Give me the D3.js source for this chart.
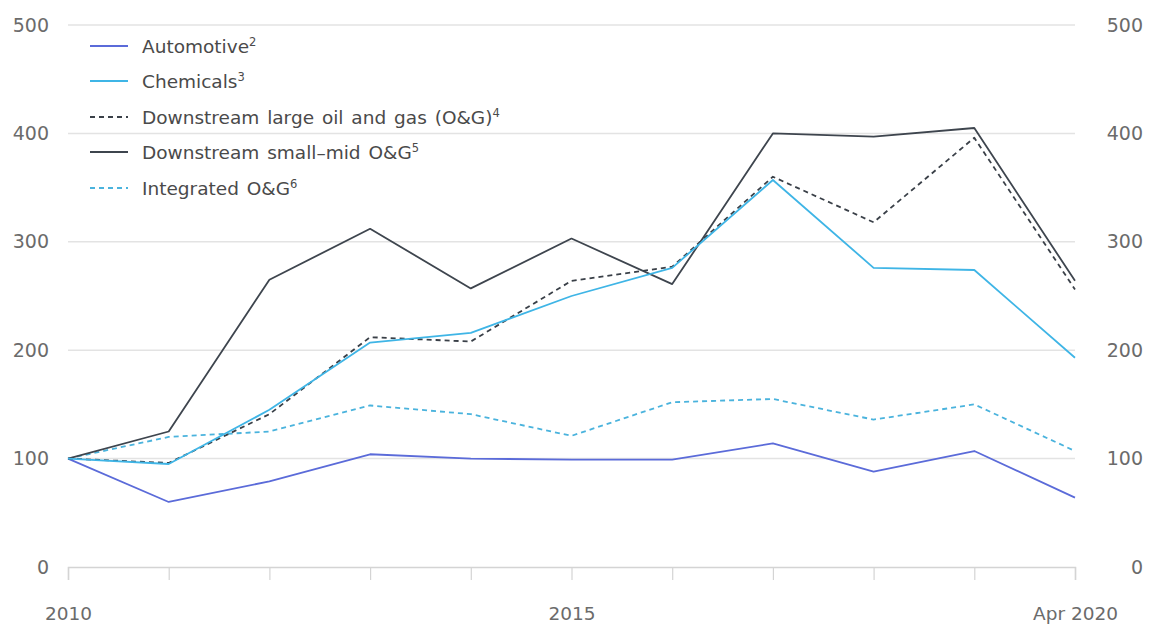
<!DOCTYPE html>
<html>
<head>
<meta charset="utf-8">
<script src="https://cdn.jsdelivr.net/npm/d3@7"></script>
<style>
  html, body { margin: 0; padding: 0; background: #fff; }
  svg { display: block; font-family: "DejaVu Sans", sans-serif; }
</style>
</head>
<body>
<svg id="chart" width="1152" height="626"></svg>
<script>
const periods = ["2010","2011","2012","2013","2014","2015","2016","2017","2018","2019","Apr 2020"];
const xTickLabels = {0: "2010", 5: "2015", 10: "Apr 2020"};
const yTicks = [0, 100, 200, 300, 400, 500];

const automotive   = [100, 60, 79, 104, 100, 99, 99, 114, 88, 107, 64];
const chemicals    = [100, 95, 145, 207, 216, 250, 276, 357, 276, 274, 193];
const downLarge    = [100, 96, 141, 212, 208, 264, 277, 360, 318, 396, 256];
const downSmallMid = [100, 125, 265, 312, 257, 303, 261, 400, 397, 405, 264];
const integrated   = [100, 120, 125, 149, 141, 121, 152, 155, 136, 150, 107];

const seriesNames = ["Automotive", "Chemicals", "Downstream large oil and gas (O&G)", "Downstream small\u2013mid O&G", "Integrated O&G"];
const seriesNotes = ["2", "3", "4", "5", "6"];

const series = [
  {name: seriesNames[0], note: seriesNotes[0], values: automotive,   color: "#5b6bd9", dash: null},
  {name: seriesNames[1], note: seriesNotes[1], values: chemicals,    color: "#3fb5e6", dash: null},
  {name: seriesNames[2], note: seriesNotes[2], values: downLarge,    color: "#3a4048", dash: "5,4"},
  {name: seriesNames[3], note: seriesNotes[3], values: downSmallMid, color: "#3e454e", dash: null},
  {name: seriesNames[4], note: seriesNotes[4], values: integrated,   color: "#4ab3dd", dash: "5,4"}
];

const svg = d3.select("#chart");
const mLeft = 68, mRight = 1075, mTop = 25, mBottom = 567;

const x = d3.scalePoint().domain(d3.range(periods.length)).range([mLeft, mRight]);
const y = d3.scaleLinear().domain([0, 500]).range([mBottom, mTop]);

// gridlines
svg.append("g").selectAll("line").data(yTicks.filter(d => d > 0)).join("line")
  .attr("x1", mLeft).attr("x2", mRight)
  .attr("y1", d => y(d)).attr("y2", d => y(d))
  .attr("stroke", "#e3e3e3").attr("stroke-width", 1.5);

// bottom axis
const xAxis = d3.axisBottom(x).tickSize(13).tickFormat(d => xTickLabels[d] || "");
const gx = svg.append("g").attr("transform", `translate(0,${mBottom})`).call(xAxis);
gx.select(".domain").attr("stroke", "#d4d4d4").attr("stroke-width", 1.5);
gx.selectAll(".tick line").attr("stroke", "#d4d4d4").attr("stroke-width", 1.2);
gx.selectAll(".tick text").attr("fill", "#6b6b6b").attr("font-size", 18.5)
  .attr("font-family", "DejaVu Sans, sans-serif").attr("y", 53).attr("dy", 0);

// left axis labels
const yAxisL = d3.axisLeft(y).tickValues(yTicks).tickSize(0);
const gyl = svg.append("g").attr("transform", `translate(${mLeft},0)`).call(yAxisL);
gyl.select(".domain").remove();
gyl.selectAll(".tick text").attr("fill", "#6b6b6b").attr("font-size", 19)
  .attr("font-family", "DejaVu Sans, sans-serif").attr("x", 49 - mLeft);

// right axis labels
const yAxisR = d3.axisRight(y).tickValues(yTicks).tickSize(0);
const gyr = svg.append("g").attr("transform", `translate(${mRight},0)`).call(yAxisR);
gyr.select(".domain").remove();
gyr.selectAll(".tick text").attr("fill", "#6b6b6b").attr("font-size", 19)
  .attr("font-family", "DejaVu Sans, sans-serif")
  .attr("text-anchor", "end").attr("x", 1143 - mRight);

// lines
const line = d3.line().x((d, i) => x(i)).y(d => y(d));
const drawOrder = [4, 0, 3, 2, 1];
svg.append("g").selectAll("path").data(drawOrder.map(i => series[i])).join("path")
  .attr("d", d => line(d.values))
  .attr("fill", "none")
  .attr("stroke", d => d.color)
  .attr("stroke-width", 1.8)
  .attr("stroke-dasharray", d => d.dash)
  .attr("stroke-linejoin", "round");

// legend
const legendY = [46, 81, 117, 152, 188];
const lg = svg.append("g").selectAll("g").data(series).join("g")
  .attr("transform", (d, i) => `translate(90,${legendY[i]})`);
lg.append("line").attr("x1", 0).attr("x2", 38).attr("y1", 0).attr("y2", 0)
  .attr("stroke", d => d.color).attr("stroke-width", 1.8)
  .attr("stroke-dasharray", d => d.dash);
const lt = lg.append("text").attr("x", 52).attr("y", 6.5)
  .attr("fill", "#4a4a4a").attr("font-size", 18.5).attr("word-spacing", 2);
lt.append("tspan").text(d => d.name);
lt.append("tspan").attr("dy", -7).attr("font-size", 11.5).text(d => d.note);
</script>
</body>
</html>
